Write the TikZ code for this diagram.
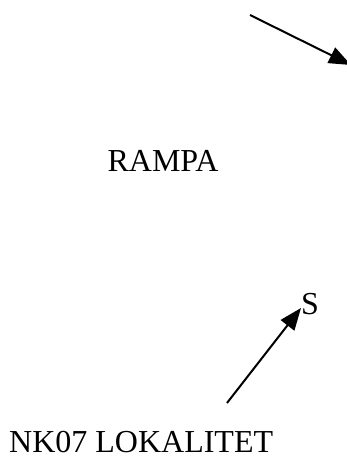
\documentclass[tikz,border=0pt]{standalone}
\usepackage{fontspec}
\setmainfont{Liberation Serif}
\usetikzlibrary{arrows.meta}
\begin{document}
\begin{tikzpicture}[x=1pt,y=1pt,
  lbl/.style={inner sep=0pt,text depth=0pt,font=\fontsize{32}{36}\selectfont},
  arr/.style={line width=2pt,-{Triangle[length=22pt,width=17pt]}}]
\useasboundingbox (0,0) rectangle (347,459);
\clip (0,0) rectangle (347,459);
\coordinate (a1) at (250,444);
\coordinate (a2) at (351,394);
\draw[arr] (a1) -- (a2);
\coordinate (b1) at (227,56);
\coordinate (b2) at (301,151);
\draw[arr] (b1) -- (b2);
\node[lbl,anchor=base] (rampa) at (163,287) {RAMPA};
\node[lbl,anchor=base west] (s) at (301,144) {S};
\node[lbl,anchor=base west] (nk) at (9,6) {NK07 LOKALITET};
\end{tikzpicture}
\end{document}
